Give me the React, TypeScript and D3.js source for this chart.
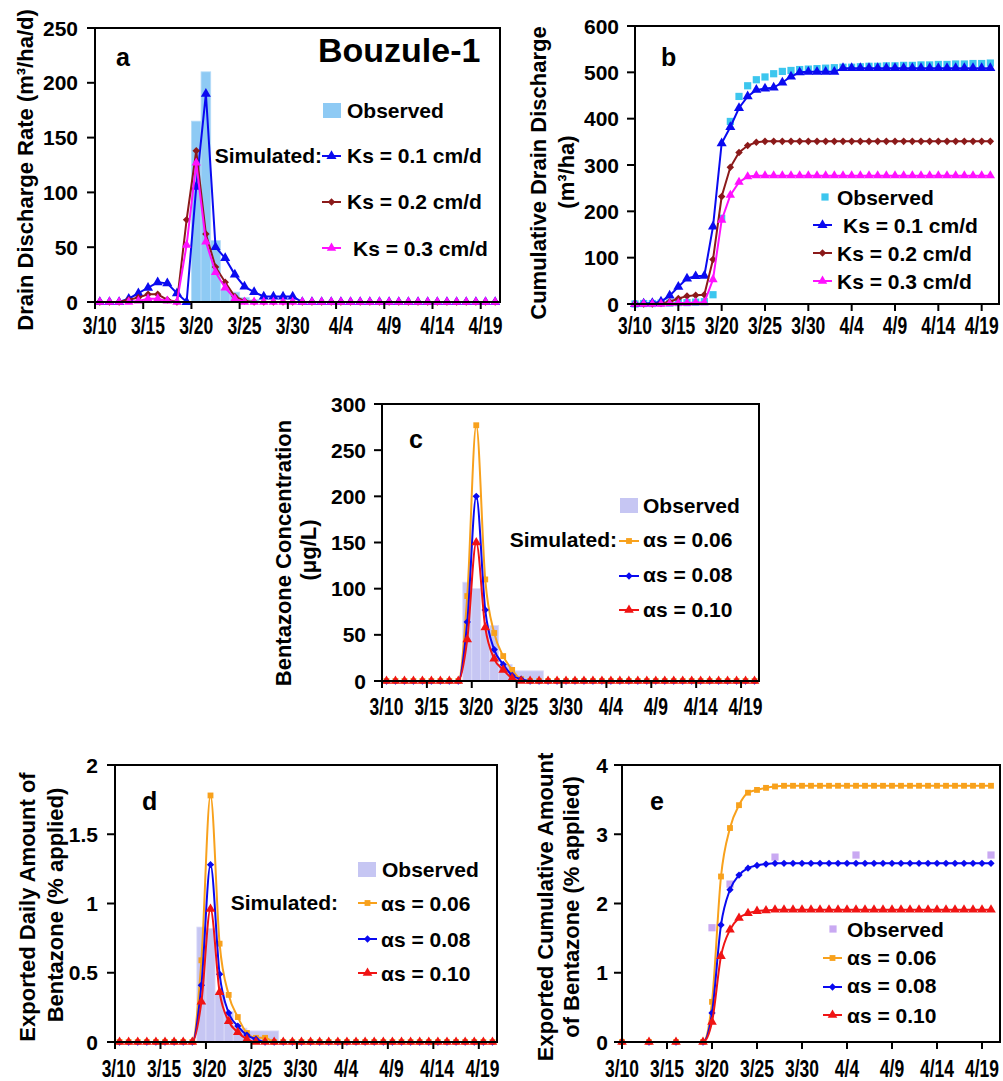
import React from 'react';
import * as d3 from 'd3';

const FONT = '"Liberation Sans", Arial, Helvetica, sans-serif';

// x axis: days after 3/10
const dateLabels = ['3/10', '3/15', '3/20', '3/25', '3/30', '4/4', '4/9', '4/14', '4/19'];
const dateTickDays = [0, 5, 10, 15, 20, 25, 30, 35, 40];
const dailyDays = [0, 1, 2, 3, 4, 5, 6, 7, 8, 9, 10, 11, 12, 13, 14, 15, 16, 17, 18, 19, 20,
  21, 22, 23, 24, 25, 26, 27, 28, 29, 30, 31, 32, 33, 34, 35, 36, 37, 38, 39, 40, 41];

// panel a: drain discharge rate
const aObsStart = [10, 11, 12, 13, 14, 15, 16];
const aObsEnd = [11, 12, 13, 14, 15, 16, 17];
const aObsValues = [165, 210, 56, 11, 9, 4, 2];
const aKs01 = [0, 0, 0, 3, 8, 13, 18, 17, 8, 0, 105, 190, 50, 40, 25, 14, 9, 5, 5, 5, 5,
  0, 0, 0, 0, 0, 0, 0, 0, 0, 0, 0, 0, 0, 0, 0, 0, 0, 0, 0, 0, 0];
const aKs02 = [0, 0, 0, 2, 4, 7, 7, 2, 0, 75, 138, 62, 32, 18, 5, 1, 0,
  0, 0, 0, 0, 0, 0, 0, 0, 0, 0, 0, 0, 0, 0, 0, 0, 0, 0, 0, 0, 0, 0, 0, 0, 0];
const aKs03 = [0, 0, 0, 0, 1, 3, 3, 1, 0, 52, 127, 55, 27, 13, 3, 0,
  0, 0, 0, 0, 0, 0, 0, 0, 0, 0, 0, 0, 0, 0, 0, 0, 0, 0, 0, 0, 0, 0, 0, 0, 0, 0];

// panel b: cumulative drain discharge
const bObserved = [0, 1, 1, 2, 2, 3, 3, 4, 5, 20, 185, 394, 448, 471, 484, 490, 497, 502, 504, 506,
  507, 508, 509, 510, 511, 511, 512, 513, 513, 514, 514, 515, 515, 516, 516, 517, 517, 518, 518, 519, 519, 520];
const bKs01 = [0, 1, 2, 5, 18, 37, 55, 60, 61, 167, 347, 382, 423, 448, 462, 465, 467, 478, 491, 500,
  501, 501, 501, 501, 509, 509, 509, 509, 509, 509, 509, 509, 509, 509, 509, 509, 509, 509, 509, 509, 509, 509];
const bKs02 = [0, 0, 0, 1, 5, 12, 17, 19, 20, 96, 232, 295, 327, 342, 349, 351, 351, 351, 351, 351,
  351, 351, 351, 351, 351, 351, 351, 351, 351, 351, 351, 351, 351, 351, 351, 351, 351, 351, 351, 351, 351, 351];
const bKs03 = [0, 0, 0, 0, 1, 2, 2, 3, 3, 53, 181, 235, 263, 275, 277, 277, 277, 277, 277, 277,
  277, 277, 277, 277, 277, 277, 277, 277, 277, 277, 277, 277, 277, 277, 277, 277, 277, 277, 277, 277, 277, 277];

// panel c: bentazone concentration
const cObsStart = [9, 10, 11, 12, 13, 14.5];
const cObsEnd = [10, 11, 12, 13, 14.5, 18];
const cObsValues = [107, 100, 55, 60, 18, 11];
const cA06 = [0, 0, 0, 0, 0, 0, 0, 0, 0, 92, 277, 110, 52, 27, 12, 2,
  0, 0, 0, 0, 0, 0, 0, 0, 0, 0, 0, 0, 0, 0, 0, 0, 0, 0, 0, 0, 0, 0, 0, 0, 0, 0];
const cA08 = [0, 0, 0, 0, 0, 0, 0, 0, 0, 64, 200, 77, 34, 18, 6, 2,
  0, 0, 0, 0, 0, 0, 0, 0, 0, 0, 0, 0, 0, 0, 0, 0, 0, 0, 0, 0, 0, 0, 0, 0, 0, 0];
const cA10 = [0, 0, 0, 0, 0, 0, 0, 0, 0, 45, 150, 58, 24, 12, 3, 0,
  0, 0, 0, 0, 0, 0, 0, 0, 0, 0, 0, 0, 0, 0, 0, 0, 0, 0, 0, 0, 0, 0, 0, 0, 0, 0];

// panel d: exported daily amount
const dObsStart = [9, 10, 11, 12, 13, 14.5];
const dObsEnd = [10, 11, 12, 13, 14.5, 18];
const dObsValues = [0.83, 0.82, 0.36, 0.22, 0.1, 0.08];
const dA06 = [0, 0, 0, 0, 0, 0, 0, 0, 0, 0.59, 1.78, 0.71, 0.34, 0.18, 0.065, 0.03, 0.03,
  0, 0, 0, 0, 0, 0, 0, 0, 0, 0, 0, 0, 0, 0, 0, 0, 0, 0, 0, 0, 0, 0, 0, 0, 0];
const dA08 = [0, 0, 0, 0, 0, 0, 0, 0, 0, 0.41, 1.28, 0.49, 0.21, 0.115, 0.05, 0.02,
  0, 0, 0, 0, 0, 0, 0, 0, 0, 0, 0, 0, 0, 0, 0, 0, 0, 0, 0, 0, 0, 0, 0, 0, 0, 0];
const dA10 = [0, 0, 0, 0, 0, 0, 0, 0, 0, 0.29, 0.96, 0.36, 0.15, 0.07, 0.02, 0,
  0, 0, 0, 0, 0, 0, 0, 0, 0, 0, 0, 0, 0, 0, 0, 0, 0, 0, 0, 0, 0, 0, 0, 0, 0, 0];

// panel e: exported cumulative amount
const eDays = [0, 3, 6, 9, 10, 11, 12, 13, 14, 15, 16, 17, 18, 19, 20, 21, 22, 23, 24, 25,
  26, 27, 28, 29, 30, 31, 32, 33, 34, 35, 36, 37, 38, 39, 40, 41];
const eA06 = [0, 0, 0, 0, 0.58, 2.39, 3.09, 3.42, 3.6, 3.64, 3.67, 3.69, 3.7, 3.7, 3.7, 3.7, 3.7, 3.7,
  3.7, 3.7, 3.7, 3.7, 3.7, 3.7, 3.7, 3.7, 3.7, 3.7, 3.7, 3.7, 3.7, 3.7, 3.7, 3.7, 3.7, 3.7];
const eA08 = [0, 0, 0, 0, 0.42, 1.69, 2.2, 2.41, 2.51, 2.55, 2.57, 2.58, 2.58, 2.58, 2.58, 2.58, 2.58, 2.58,
  2.58, 2.58, 2.58, 2.58, 2.58, 2.58, 2.58, 2.58, 2.58, 2.58, 2.58, 2.58, 2.58, 2.58, 2.58, 2.58, 2.58, 2.58];
const eA10 = [0, 0, 0, 0, 0.29, 1.24, 1.62, 1.79, 1.86, 1.89, 1.9, 1.91, 1.91, 1.91, 1.91, 1.91, 1.91, 1.91,
  1.91, 1.91, 1.91, 1.91, 1.91, 1.91, 1.91, 1.91, 1.91, 1.91, 1.91, 1.91, 1.91, 1.91, 1.91, 1.91, 1.91, 1.91];
const eObsDays = [10, 12, 17, 26, 41];
const eObsValues = [1.65, 2.28, 2.67, 2.7, 2.7];

const BLUE = '#0a0af0';
const MAROON = '#8b1a1a';
const MAGENTA = '#ff10ff';
const ORANGE = '#f8a11c';
const RED = '#f01414';
const SKY_BAR = '#8ecaf4';
const CYAN = '#3cc6ee';
const LAVENDER = '#c6c6f3';
const VIOLET = '#c9a9f2';

type Series = {
  days: number[];
  values: number[];
  color: string;
  symbol: d3.SymbolType;
  size: number;
  line: boolean;
  curve: d3.CurveFactory;
};

type Bars = { start: number[]; end: number[]; values: number[]; color: string; stroke: string };

type LegendRow =
  | { kind: 'bar'; color: string; x: number; y: number; w: number; h: number; label: string; tx: number; ty: number }
  | { kind: 'series'; s: Series; x1: number; x2: number; y: number; label: string; tx: number; ty: number }
  | { kind: 'text'; label: string; tx: number; ty: number; anchor: string };

type PanelCfg = {
  left: number; right: number; top: number; bottom: number;
  yMax: number; yTicks: number[]; yLabel: (v: number) => string; yLabelRight: number;
  shift: number; labelShift: number; labelY: number;
  bars?: Bars;
  series: Series[];
  titles: { text: string; x: number; y: number }[];
  letter: { text: string; x: number; y: number };
  legend: LegendRow[];
};

const symPath = (t: d3.SymbolType, size: number) => d3.symbol().type(t).size(size)() || '';

function Marker({ s, cx, cy }: { s: Series; cx: number; cy: number }) {
  return <path d={symPath(s.symbol, s.size)} transform={`translate(${cx},${cy})`} fill={s.color} />;
}

function Panel({ cfg }: { cfg: PanelCfg }) {
  const x = d3.scaleLinear().domain([0, 42]).range([cfg.left, cfg.right]);
  const y = d3.scaleLinear().domain([0, cfg.yMax]).range([cfg.bottom, cfg.top]);
  return (
    <g>
      {cfg.bars && cfg.bars.values.map((v, i) => (
        <rect key={'b' + i}
          x={x(cfg.bars!.start[i])} width={x(cfg.bars!.end[i]) - x(cfg.bars!.start[i])}
          y={y(v)} height={cfg.bottom - y(v)}
          fill={cfg.bars!.color} stroke={cfg.bars!.stroke} strokeWidth={0.8} />
      ))}
      {cfg.series.map((s, si) => {
        const pts: [number, number][] = s.values.map((v, i) => [x(s.days[i] + cfg.shift), y(v)]);
        const path = d3.line().curve(s.curve)(pts) || '';
        return (
          <g key={'s' + si}>
            {s.line && <path d={path} fill="none" stroke={s.color} strokeWidth={2} />}
            {pts.map((p, i) => <Marker key={i} s={s} cx={p[0]} cy={p[1]} />)}
          </g>
        );
      })}
      <rect x={cfg.left} y={cfg.top} width={cfg.right - cfg.left} height={cfg.bottom - cfg.top}
        fill="none" stroke="#000" strokeWidth={2} />
      {cfg.yTicks.map((t) => (
        <g key={'y' + t}>
          <line x1={cfg.left - 8} x2={cfg.left} y1={y(t)} y2={y(t)} stroke="#000" strokeWidth={2} />
          <text x={cfg.yLabelRight} y={y(t)} dy="0.36em" textAnchor="end" fontSize={21}
            fontWeight="bold" fontFamily={FONT}>{cfg.yLabel(t)}</text>
        </g>
      ))}
      {dateTickDays.map((d, i) => (
        <g key={'x' + d}>
          <line x1={x(d)} x2={x(d)} y1={cfg.bottom} y2={cfg.bottom + 7} stroke="#000" strokeWidth={2} />
          <text transform={`translate(${x(d + cfg.labelShift)},${cfg.labelY}) scale(0.76,1)`}
            textAnchor="middle" fontSize={23} fontWeight="bold" fontFamily={FONT}>{dateLabels[i]}</text>
        </g>
      ))}
      {cfg.titles.map((t, i) => (
        <text key={'t' + i} transform={`translate(${t.x},${t.y}) rotate(-90)`} textAnchor="middle"
          dominantBaseline="central" fontSize={22} fontWeight="bold" fontFamily={FONT}>{t.text}</text>
      ))}
      <text x={cfg.letter.x} y={cfg.letter.y} fontSize={25} fontWeight="bold" fontFamily={FONT}>{cfg.letter.text}</text>
      {cfg.legend.map((r, i) => {
        if (r.kind === 'bar') {
          return (
            <g key={'l' + i}>
              <rect x={r.x} y={r.y} width={r.w} height={r.h} fill={r.color} />
              <text x={r.tx} y={r.ty} fontSize={21} fontWeight="bold" fontFamily={FONT}>{r.label}</text>
            </g>
          );
        }
        if (r.kind === 'series') {
          return (
            <g key={'l' + i}>
              {r.s.line && <line x1={r.x1} x2={r.x2} y1={r.y} y2={r.y} stroke={r.s.color} strokeWidth={2} />}
              <Marker s={r.s} cx={(r.x1 + r.x2) / 2} cy={r.y} />
              <text x={r.tx} y={r.ty} fontSize={21} fontWeight="bold" fontFamily={FONT}>{r.label}</text>
            </g>
          );
        }
        return (
          <text key={'l' + i} x={r.tx} y={r.ty} textAnchor={r.anchor} fontSize={21} fontWeight="bold"
            fontFamily={FONT}>{r.label}</text>
        );
      })}
    </g>
  );
}

const lin = d3.curveLinear;
const smooth = d3.curveMonotoneX;

const aS1: Series = { days: dailyDays, values: aKs01, color: BLUE, symbol: d3.symbolTriangle, size: 44, line: true, curve: lin };
const aS2: Series = { days: dailyDays, values: aKs02, color: MAROON, symbol: d3.symbolDiamond2, size: 36, line: true, curve: lin };
const aS3: Series = { days: dailyDays, values: aKs03, color: MAGENTA, symbol: d3.symbolTriangle, size: 38, line: true, curve: lin };

const bObs: Series = { days: dailyDays, values: bObserved, color: CYAN, symbol: d3.symbolSquare, size: 52, line: false, curve: lin };
const bS1: Series = { ...aS1, values: bKs01 };
const bS2: Series = { ...aS2, values: bKs02 };
const bS3: Series = { ...aS3, values: bKs03 };

const mkAlpha = (days: number[], v06: number[], v08: number[], v10: number[]): Series[] => [
  { days, values: v06, color: ORANGE, symbol: d3.symbolSquare, size: 34, line: true, curve: smooth },
  { days, values: v08, color: BLUE, symbol: d3.symbolDiamond2, size: 34, line: true, curve: smooth },
  { days, values: v10, color: RED, symbol: d3.symbolTriangle, size: 40, line: true, curve: smooth },
];
const cSeries = mkAlpha(dailyDays, cA06, cA08, cA10);
const dSeries = mkAlpha(dailyDays, dA06, dA08, dA10);
const eSeries = mkAlpha(eDays, eA06, eA08, eA10);
const eObs: Series = { days: eObsDays, values: eObsValues, color: VIOLET, symbol: d3.symbolSquare, size: 52, line: false, curve: lin };

const intFmt = (v: number) => String(v);

const panels: PanelCfg[] = [
  {
    left: 95, right: 500, top: 28, bottom: 302, yMax: 250, yTicks: [0, 50, 100, 150, 200, 250],
    yLabel: intFmt, yLabelRight: 78, shift: 0.5, labelShift: 0.5, labelY: 334,
    bars: { start: aObsStart, end: aObsEnd, values: aObsValues, color: SKY_BAR, stroke: '#b5dcf8' },
    series: [aS1, aS2, aS3],
    titles: [{ text: 'Drain Discharge Rate (m³/ha/d)', x: 25, y: 170 }],
    letter: { text: 'a', x: 116, y: 66 },
    legend: [
      { kind: 'bar', color: SKY_BAR, x: 323, y: 103, w: 18, h: 15, label: 'Observed', tx: 347, ty: 118 },
      { kind: 'text', label: 'Simulated:', tx: 322, ty: 163, anchor: 'end' },
      { kind: 'series', s: aS1, x1: 322, x2: 341, y: 156, label: 'Ks = 0.1 cm/d', tx: 347, ty: 163 },
      { kind: 'series', s: aS2, x1: 322, x2: 341, y: 202, label: 'Ks = 0.2 cm/d', tx: 347, ty: 209 },
      { kind: 'series', s: aS3, x1: 322, x2: 341, y: 248, label: 'Ks = 0.3 cm/d', tx: 353, ty: 256 },
    ],
  },
  {
    left: 635, right: 999, top: 26, bottom: 304, yMax: 600, yTicks: [0, 100, 200, 300, 400, 500, 600],
    yLabel: intFmt, yLabelRight: 619, shift: 0, labelShift: 0, labelY: 334,
    series: [bObs, bS1, bS2, bS3],
    titles: [
      { text: 'Cumulative Drain Discharge', x: 538, y: 173 },
      { text: '(m³/ha)', x: 566, y: 172 },
    ],
    letter: { text: 'b', x: 661, y: 66 },
    legend: [
      { kind: 'series', s: bObs, x1: 813, x2: 837, y: 197, label: 'Observed', tx: 837, ty: 205 },
      { kind: 'series', s: bS1, x1: 813, x2: 832, y: 225, label: 'Ks = 0.1 cm/d', tx: 843, ty: 233 },
      { kind: 'series', s: bS2, x1: 813, x2: 832, y: 253, label: 'Ks = 0.2 cm/d', tx: 837, ty: 261 },
      { kind: 'series', s: bS3, x1: 813, x2: 832, y: 281, label: 'Ks = 0.3 cm/d', tx: 837, ty: 289 },
    ],
  },
  {
    left: 382, right: 759, top: 404, bottom: 681, yMax: 300, yTicks: [0, 50, 100, 150, 200, 250, 300],
    yLabel: intFmt, yLabelRight: 366, shift: 0.5, labelShift: 0.5, labelY: 715,
    bars: { start: cObsStart, end: cObsEnd, values: cObsValues, color: LAVENDER, stroke: '#dcdcf8' },
    series: cSeries,
    titles: [
      { text: 'Bentazone Concentration', x: 283, y: 553 },
      { text: '(μg/L)', x: 308, y: 550 },
    ],
    letter: { text: 'c', x: 409, y: 448 },
    legend: [
      { kind: 'bar', color: LAVENDER, x: 620, y: 498, w: 18, h: 15, label: 'Observed', tx: 643, ty: 513 },
      { kind: 'text', label: 'Simulated:', tx: 617, ty: 547, anchor: 'end' },
      { kind: 'series', s: cSeries[0], x1: 619, x2: 639, y: 541, label: 'αs = 0.06', tx: 643, ty: 547 },
      { kind: 'series', s: cSeries[1], x1: 619, x2: 639, y: 576, label: 'αs = 0.08', tx: 643, ty: 582 },
      { kind: 'series', s: cSeries[2], x1: 619, x2: 639, y: 610, label: 'αs = 0.10', tx: 643, ty: 617 },
    ],
  },
  {
    left: 115, right: 497, top: 765, bottom: 1042, yMax: 2, yTicks: [0, 0.5, 1, 1.5, 2],
    yLabel: intFmt, yLabelRight: 98, shift: 0.5, labelShift: 0.4, labelY: 1077,
    bars: { start: dObsStart, end: dObsEnd, values: dObsValues, color: LAVENDER, stroke: '#dcdcf8' },
    series: dSeries,
    titles: [
      { text: 'Exported Daily Amount of', x: 27, y: 907 },
      { text: 'Bentazone (% applied)', x: 55, y: 905 },
    ],
    letter: { text: 'd', x: 142, y: 810 },
    legend: [
      { kind: 'bar', color: LAVENDER, x: 358, y: 862, w: 18, h: 15, label: 'Observed', tx: 382, ty: 877 },
      { kind: 'text', label: 'Simulated:', tx: 338, ty: 910, anchor: 'end' },
      { kind: 'series', s: dSeries[0], x1: 358, x2: 377, y: 903, label: 'αs = 0.06', tx: 381, ty: 911 },
      { kind: 'series', s: dSeries[1], x1: 358, x2: 377, y: 939, label: 'αs = 0.08', tx: 381, ty: 947 },
      { kind: 'series', s: dSeries[2], x1: 358, x2: 377, y: 973, label: 'αs = 0.10', tx: 381, ty: 981 },
    ],
  },
  {
    left: 622, right: 1000, top: 765, bottom: 1042, yMax: 4, yTicks: [0, 1, 2, 3, 4],
    yLabel: intFmt, yLabelRight: 608, shift: 0, labelShift: 0, labelY: 1077,
    series: [eObs, ...eSeries],
    titles: [
      { text: 'Exported Cumulative Amount', x: 545, y: 907 },
      { text: 'of Bentazone (% applied)', x: 571, y: 907 },
    ],
    letter: { text: 'e', x: 650, y: 810 },
    legend: [
      { kind: 'series', s: eObs, x1: 823, x2: 843, y: 929, label: 'Observed', tx: 847, ty: 937 },
      { kind: 'series', s: eSeries[0], x1: 823, x2: 842, y: 958, label: 'αs = 0.06', tx: 847, ty: 965 },
      { kind: 'series', s: eSeries[1], x1: 823, x2: 842, y: 987, label: 'αs = 0.08', tx: 847, ty: 993 },
      { kind: 'series', s: eSeries[2], x1: 823, x2: 842, y: 1015, label: 'αs = 0.10', tx: 847, ty: 1023 },
    ],
  },
];

export default function App() {
  return (
    <svg width={1003} height={1081} style={{ position: 'absolute', left: 0, top: 0, background: '#fff' }}>
      <rect width={1003} height={1081} fill="#fff" />
      {panels.map((p, i) => <Panel key={i} cfg={p} />)}
      <text x={318} y={62} fontSize={34} fontWeight="bold" fontFamily={FONT}>Bouzule-1</text>
    </svg>
  );
}
